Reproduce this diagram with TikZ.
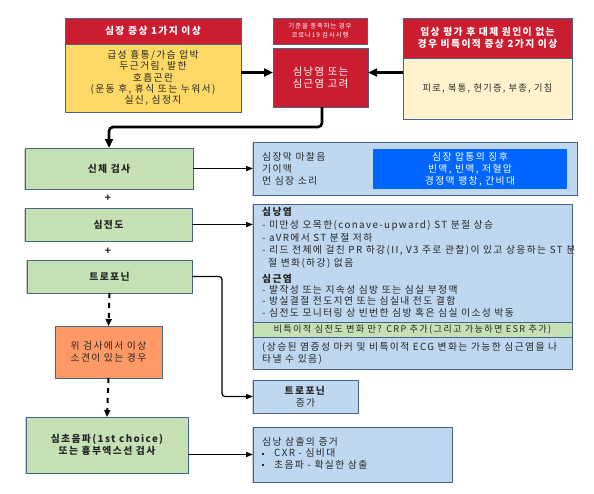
\documentclass[tikz,border=0pt]{standalone}
\usepackage{fontspec}
\newfontfamily\kr[LetterSpace=14]{Noto Sans CJK KR}
\usetikzlibrary{arrows.meta,shadows}

\definecolor{hdred}{RGB}{204,28,48}
\definecolor{symyellow}{RGB}{255,217,102}
\definecolor{cream}{RGB}{255,242,204}
\definecolor{testgreen}{RGB}{197,224,180}
\definecolor{resblue}{RGB}{190,215,238}
\definecolor{abnorange}{RGB}{255,153,102}
\definecolor{tampblue}{RGB}{0,102,255}
\definecolor{edge}{RGB}{70,100,140}

\begin{document}
\begin{tikzpicture}[x=1pt, y=-1pt,
  every node/.style={font=\kr\fontsize{9.8}{11.5}\selectfont, text=black!85},
  box/.style={draw=edge, line width=0.8pt, inner sep=0pt, outer sep=0pt, align=center},
  redbox/.style={box, fill=hdred, text=white},
  greenbox/.style={box, fill=testgreen, font=\kr\bfseries\fontsize{9.8}{12}\selectfont,
    drop shadow={shadow xshift=-0.8pt, shadow yshift=-0.8pt, fill=black!40}},
  bluebox/.style={box, fill=resblue,
    drop shadow={shadow xshift=-0.8pt, shadow yshift=-0.8pt, fill=black!40}},
  txt/.style={inner sep=0pt, align=left, anchor=north west},
  bigarrow/.style={line width=2.6pt, -{Triangle[length=9pt,width=8pt]}},
  thinarrow/.style={line width=1.2pt, -{Triangle[length=7pt,width=5pt]}},
  dasharrow/.style={line width=2pt, dash pattern=on 5pt off 5pt, -{Triangle[length=7pt,width=6pt]}}
]
\useasboundingbox (0,0) rectangle (594,493);

%symptoms (top)
\node[redbox, minimum width=176pt, minimum height=26pt, font=\kr\bfseries\fontsize{9.8}{11}\selectfont] (hdA) at (153,31) {심장 증상 1가지 이상};
\node[box, fill=symyellow, minimum width=176pt, minimum height=68pt, font=\kr\fontsize{9.8}{11.3}\selectfont] (bodyA) at (153,78)
  {급성 흉통/가슴 압박\\두근거림, 발한\\호흡곤란\\(운동 후, 휴식 또는 누워서)\\실신, 심정지};
\node[redbox, minimum width=94pt, minimum height=26pt, font=\kr\fontsize{6.4}{9}\selectfont] (covid) at (320,31) {기준을 충족하는 경우\\코로나19 검사시행};
\node[redbox, minimum width=95pt, minimum height=59pt, font=\kr\fontsize{10.3}{12}\selectfont] (redC) at (320.5,77.5) {심낭염 또는\\심근염 고려};
\node[redbox, minimum width=169pt, minimum height=40pt, font=\kr\bfseries\fontsize{9.8}{11.5}\selectfont] (hdB) at (487.5,38)
  {임상 평가 후 대체 원인이 없는\\경우 비특이적 증상 2가지 이상};
\node[box, fill=cream, minimum width=169pt, minimum height=61pt, font=\kr\fontsize{9.2}{11}\selectfont] (bodyB) at (487.5,88.5) {피로, 복통, 현기증, 부종, 기침};

%tests (left column)
\node[greenbox, minimum width=168pt, minimum height=41pt] (exam) at (109,168.5) {신체 검사};
\node[font=\kr\bfseries\fontsize{10}{10}\selectfont] (plusA) at (108,198) {+};
\node[greenbox, minimum width=167pt, minimum height=33pt] (ecg) at (108.5,224.5) {심전도};
\node[font=\kr\bfseries\fontsize{10}{10}\selectfont] (plusB) at (108,251) {+};
\node[greenbox, minimum width=165pt, minimum height=33pt] (trop) at (109.5,276.5) {트로포닌};
\node[box, fill=abnorange, minimum width=107pt, minimum height=52pt] (abn) at (108.5,352) {위 검사에서 이상\\소견이 있는 경우};
\node[greenbox, minimum width=162pt, minimum height=56pt] (echo) at (107,445) {심초음파(1st choice)\\또는 흉부엑스선 검사};

%findings (right column)
\node[bluebox, minimum width=324pt, minimum height=53pt] (signs) at (415,168.5) {};
\node[txt, anchor=west, font=\kr\fontsize{9.8}{12}\selectfont] (signsTxt) at (262,169) {심장막 마찰음\\기이맥\\먼 심장 소리};
\node[box, draw=none, fill=tampblue, text=white, minimum width=194pt, minimum height=40pt, font=\kr\fontsize{9.8}{12}\selectfont] (tamp) at (470,169)
  {심장 압통의 징후\\빈맥, 빈맥, 저혈압\\경정맥 팽창, 간비대};

\node[bluebox, minimum width=319pt, minimum height=165pt] (ecgres) at (412.5,286.5) {};
\node[txt, font=\kr\fontsize{9.8}{12.8}\selectfont] (periTxt) at (262,207)
  {\textbf{심낭염}\\
   - 미만성 오목한(conave-upward) ST 분절 상승\\
   - aVR에서 ST 분절 저하\\
   - 리드 전체에 걸친 PR 하강(II, V3 주로 관찰)이 있고 상응하는 ST 분\\
   \hspace*{6pt}절 변화(하강) 없음};
\node[txt, font=\kr\fontsize{9.8}{11.2}\selectfont] (myoTxt) at (262,274)
  {\textbf{심근염}\\
   - 발작성 또는 지속성 심방 또는 심실 부정맥\\
   - 방실결절 전도지연 또는 심실내 전도 결함\\
   - 심전도 모니터링 상 빈번한 심방 혹은 심실 이소성 박동};
\node[box, fill=testgreen, minimum width=319pt, minimum height=15pt, font=\kr\fontsize{9.2}{10}\selectfont] (crp) at (412.5,329.5)
  {비특이적 심전도 변화 만? CRP 추가(그리고 가능하면 ESR 추가)};
\node[txt, font=\kr\fontsize{9.8}{12}\selectfont] (crpTxt) at (262,342)
  {(상승된 염증성 마커 및 비특이적 ECG 변화는 가능한 심근염을 나\\타낼 수 있음)};

\node[bluebox, minimum width=105pt, minimum height=33pt] (tropup) at (305.5,396.5) {\textbf{트로포닌}\\증가};
\node[bluebox, minimum width=199pt, minimum height=55pt] (effus) at (352.5,454.5) {};
\node[txt, font=\kr\fontsize{9.8}{11.5}\selectfont] (effusTxt) at (262,437)
  {심낭 삼출의 증거\\
   \makebox[12pt][l]{\rule[2pt]{2pt}{2pt}}CXR - 심비대\\
   \makebox[12pt][l]{\rule[2pt]{2pt}{2pt}}초음파 - 확실한 삼출};

%arrows
\coordinate (inL) at ([yshift=5pt]redC.west);
\coordinate (inR) at ([yshift=5pt]redC.east);
\draw[bigarrow] (bodyA.east |- inL) -- (inL);
\draw[bigarrow] (bodyB.west |- inR) -- (inR);
\draw[bigarrow, rounded corners=4pt] ([xshift=1.5pt]redC.south) -- ++(0,20) -| (exam.north);
\draw[thinarrow] (exam.east) -- (exam.east -| signs.west);
\draw[thinarrow] (ecg.east) -- (ecg.east -| ecgres.west);
\draw[thinarrow, rounded corners=3pt] (trop.east) -- ++(30,0) |- (tropup.west);
\draw[thinarrow] (echo.east |- effus.west) -- (effus.west);
\draw[dasharrow] (trop.south) -- (abn.north);
\draw[dasharrow] (abn.south) -- (echo.north);
\end{tikzpicture}
\end{document}
